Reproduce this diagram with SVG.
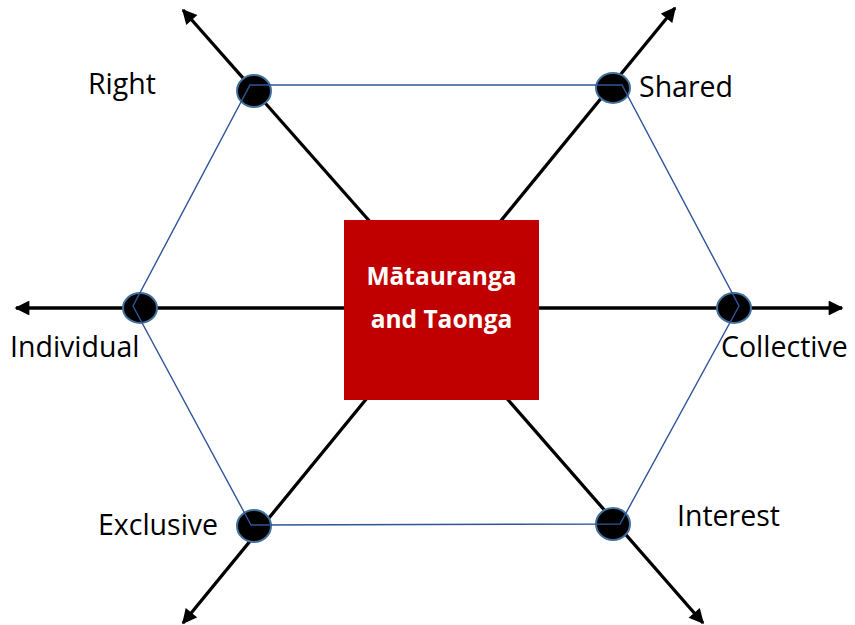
<svg xmlns="http://www.w3.org/2000/svg" width="855" height="625" viewBox="0 0 855 625">
<defs>
<marker id="ah" viewBox="0 0 10 10" refX="9" refY="5" markerWidth="5" markerHeight="4.5" orient="auto" markerUnits="strokeWidth">
<path d="M0,0 L10,5 L0,10 z" fill="#000"/>
</marker>
<style>
.axis{stroke:#000;stroke-width:3.3;fill:none;marker-end:url(#ah)}
.hex{stroke:#2F5597;stroke-width:1.4;fill:none}
.dot{fill:#000;stroke:#41719C;stroke-width:2}
.lbl{font-family:"Open Sans","Liberation Sans",sans-serif;font-size:28.5px;fill:#000}
.ctr{font-family:"Open Sans","Liberation Sans",sans-serif;font-size:24.5px;font-weight:bold;fill:#fff;text-anchor:middle}
</style>
</defs>
<rect width="855" height="625" fill="#fff"/>
<g id="connectors">
<line class="axis" x1="441" y1="308" x2="16" y2="308"/>
<line class="axis" x1="441" y1="308" x2="842" y2="308"/>
<line class="axis" x1="395" y1="250" x2="183" y2="10"/>
<line class="axis" x1="477" y1="250" x2="675" y2="8"/>
<line class="axis" x1="390" y1="370" x2="183" y2="623"/>
<line class="axis" x1="489" y1="378" x2="703" y2="623"/>
</g>
<g id="nodes-dots">
<g id="dot-right"><ellipse class="dot" cx="254" cy="91" rx="17" ry="16"/></g>
<g id="dot-shared"><ellipse class="dot" cx="613" cy="88" rx="17" ry="15"/></g>
<g id="dot-individual"><ellipse class="dot" cx="140" cy="308" rx="17" ry="15"/></g>
<g id="dot-collective"><ellipse class="dot" cx="734" cy="308" rx="17" ry="15"/></g>
<g id="dot-exclusive"><ellipse class="dot" cx="254" cy="526" rx="17" ry="16"/></g>
<g id="dot-interest"><ellipse class="dot" cx="613" cy="524" rx="17" ry="16"/></g>
</g>
<g id="hexagon">
<polygon class="hex" points="250,85 622,85 739,306 620,524 251,525 133,306"/>
</g>
<g id="center">
<rect x="344" y="220" width="195" height="180" fill="#C00000"/>
<text class="ctr" x="441.5" y="285">Mātauranga</text>
<text class="ctr" x="441.5" y="328">and Taonga</text>
</g>
<g id="label-right"><text class="lbl" x="88" y="94">Right</text></g>
<g id="label-shared"><text class="lbl" x="639" y="97">Shared</text></g>
<g id="label-individual"><text class="lbl" x="10" y="357">Individual</text></g>
<g id="label-collective"><text class="lbl" x="721" y="357">Collective</text></g>
<g id="label-exclusive"><text class="lbl" x="98" y="535">Exclusive</text></g>
<g id="label-interest"><text class="lbl" x="677" y="526">Interest</text></g>
</svg>
